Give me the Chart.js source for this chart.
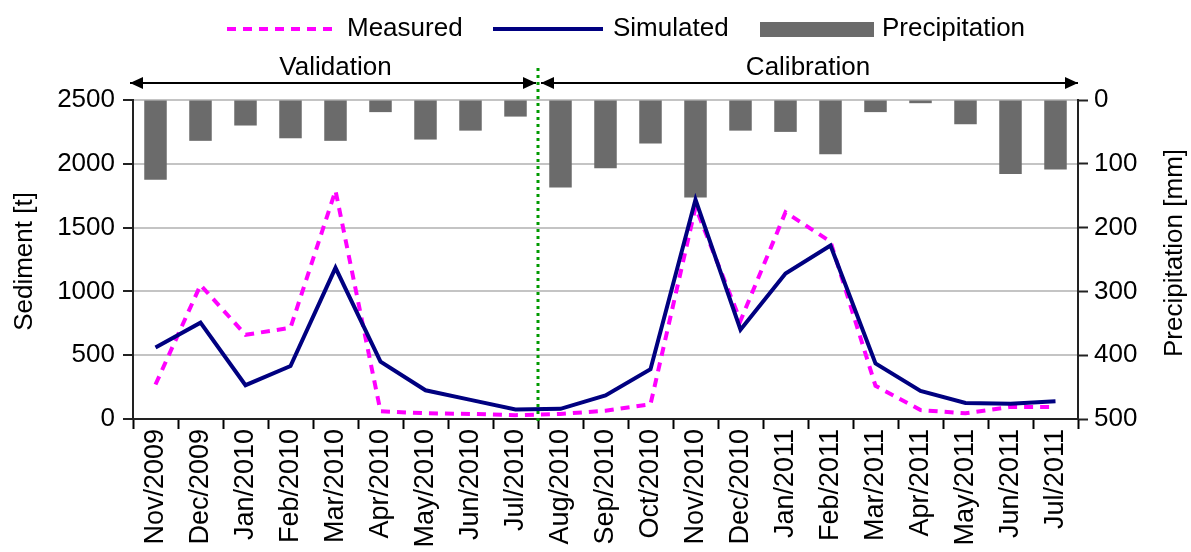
<!DOCTYPE html>
<html>
<head>
<meta charset="utf-8">
<script src="https://cdn.jsdelivr.net/npm/chart.js@4.4.0/dist/chart.umd.min.js"></script>
<style>
  html, body { margin: 0; padding: 0; background: #fff; }
  #wrap { width: 1191px; height: 552px; position: relative; }
</style>
</head>
<body>
<div id="wrap"><canvas id="chart"></canvas></div>
<script>
const months = ['Nov/2009','Dec/2009','Jan/2010','Feb/2010','Mar/2010','Apr/2010','May/2010','Jun/2010','Jul/2010',
  'Aug/2010','Sep/2010','Oct/2010','Nov/2010','Dec/2010','Jan/2011','Feb/2011','Mar/2011','Apr/2011','May/2011','Jun/2011','Jul/2011'];
const measured  = [270, 1050, 660, 715, 1790, 60, 45, 40, 30, 40, 65, 115, 1660, 770, 1620, 1390, 260, 70, 45, 95, 95];
const simulated = [560, 755, 265, 415, 1185, 450, 225, 150, 75, 80, 185, 390, 1720, 700, 1140, 1360, 435, 220, 125, 120, 140];
const precip    = [125, 64, 40, 60, 64, 19, 62, 48, 26, 137, 107, 68, 153, 48, 50, 85, 19, 5, 38, 116, 109];
const sedTicks = [0, 500, 1000, 1500, 2000, 2500];
const precTicks = [0, 100, 200, 300, 400, 500];
const splitAfter = 'Jul/2010';

const FONT = "'Liberation Sans', Arial, sans-serif";

function arrowHead(ctx, x, y, dir) {
  ctx.beginPath();
  ctx.moveTo(x, y);
  ctx.lineTo(x - dir * 13, y - 6);
  ctx.lineTo(x - dir * 13, y + 6);
  ctx.closePath();
  ctx.fill();
}

const extras = {
  id: 'extras',
  afterDatasetsDraw(chart) {
    const { ctx, chartArea: a, scales: { x } } = chart;
    const i = months.indexOf(splitAfter);
    const splitX = (x.getPixelForValue(i) + x.getPixelForValue(i + 1)) / 2;
    ctx.save();

    // split line
    ctx.strokeStyle = '#009a00';
    ctx.lineWidth = 3;
    ctx.setLineDash([3, 4]);
    ctx.beginPath();
    ctx.moveTo(splitX, 68);
    ctx.lineTo(splitX, a.bottom + 2);
    ctx.stroke();
    ctx.setLineDash([]);

    // period arrows
    const ay = 83;
    ctx.strokeStyle = '#000';
    ctx.fillStyle = '#000';
    ctx.lineWidth = 2;
    ctx.beginPath();
    ctx.moveTo(a.left - 3, ay); ctx.lineTo(splitX - 2, ay);
    ctx.moveTo(splitX + 3, ay); ctx.lineTo(a.right, ay);
    ctx.stroke();
    arrowHead(ctx, a.left - 3, ay, -1);
    arrowHead(ctx, splitX - 2, ay, 1);
    arrowHead(ctx, splitX + 3, ay, -1);
    arrowHead(ctx, a.right, ay, 1);

    ctx.font = '26px ' + FONT;
    ctx.textAlign = 'center';
    ctx.textBaseline = 'middle';
    ctx.fillText('Validation', (a.left + splitX) / 2, 68);
    ctx.fillText('Calibration', (splitX + a.right) / 2, 68);

    // legend
    const ly = 29;
    ctx.textAlign = 'left';
    ctx.lineWidth = 4;
    ctx.strokeStyle = '#ff00ff';
    ctx.setLineDash([9, 7]);
    ctx.beginPath(); ctx.moveTo(227, ly); ctx.lineTo(337, ly); ctx.stroke();
    ctx.setLineDash([]);
    ctx.fillText('Measured', 347, ly);
    ctx.strokeStyle = '#000080';
    ctx.beginPath(); ctx.moveTo(493, ly); ctx.lineTo(603, ly); ctx.stroke();
    ctx.fillText('Simulated', 613, ly);
    ctx.fillStyle = '#6b6b6b';
    ctx.fillRect(760, 22, 114, 15);
    ctx.fillStyle = '#000';
    ctx.fillText('Precipitation', 882, ly);

    // axis titles
    ctx.font = '26px ' + FONT;
    ctx.save();
    ctx.translate(25, (a.top + a.bottom) / 2 + 2);
    ctx.rotate(-Math.PI / 2);
    ctx.textAlign = 'center';
    ctx.fillText('Sediment [t]', 0, 0);
    ctx.restore();
    ctx.save();
    ctx.translate(1175, 253);
    ctx.rotate(-Math.PI / 2);
    ctx.textAlign = 'center';
    ctx.fillText('Precipitation [mm]', 0, 0);
    ctx.restore();

    ctx.restore();
  }
};

new Chart(document.getElementById('chart'), {
  data: {
    labels: months,
    datasets: [
      { type: 'line', label: 'Simulated', data: simulated, yAxisID: 'y', order: 0,
        borderColor: '#000080', borderWidth: 4, pointRadius: 0, tension: 0, fill: false },
      { type: 'line', label: 'Measured', data: measured, yAxisID: 'y', order: 1,
        borderColor: '#ff00ff', borderWidth: 4, borderDash: [9, 7], pointRadius: 0, tension: 0, fill: false },
      { type: 'bar', label: 'Precipitation', data: precip, yAxisID: 'y1', order: 2,
        backgroundColor: '#6b6b6b', barPercentage: 0.5, categoryPercentage: 1 }
    ]
  },
  options: {
    responsive: true,
    maintainAspectRatio: false,
    animation: false,
    layout: { padding: { top: 100, left: 0, right: 0, bottom: 0 } },
    plugins: { legend: { display: false }, tooltip: { enabled: false } },
    scales: {
      x: {
        offset: true,
        grid: { display: true, offset: true, drawOnChartArea: false, tickLength: 10, tickColor: '#000', tickWidth: 2 },
        border: { color: '#222', width: 2 },
        ticks: { minRotation: 90, maxRotation: 90, autoSkip: false, padding: 0, color: '#000', font: { family: FONT, size: 27 } },
        afterFit(s) { s.height = 133; }
      },
      y: {
        position: 'left',
        min: 0, max: 2500,
        afterBuildTicks(s) { s.ticks = sedTicks.map(v => ({ value: v })); },
        grid: { color: '#c4c4c4', lineWidth: 2, tickLength: 10, tickColor: '#222', tickWidth: 2 },
        border: { color: '#222', width: 2 },
        ticks: { padding: 8, color: '#000', font: { family: FONT, size: 26 }, callback: v => String(v) },
        afterFit(s) { s.width = 133; }
      },
      y1: {
        position: 'right',
        min: 0, max: 500, reverse: true,
        afterBuildTicks(s) { s.ticks = precTicks.map(v => ({ value: v })); },
        grid: { drawOnChartArea: false, tickLength: 10, tickColor: '#222', tickWidth: 2 },
        border: { color: '#222', width: 2 },
        ticks: { padding: 6, color: '#000', font: { family: FONT, size: 26 }, callback: v => String(v) },
        afterFit(s) { s.width = 113; }
      }
    }
  },
  plugins: [extras]
});
</script>
</body>
</html>
